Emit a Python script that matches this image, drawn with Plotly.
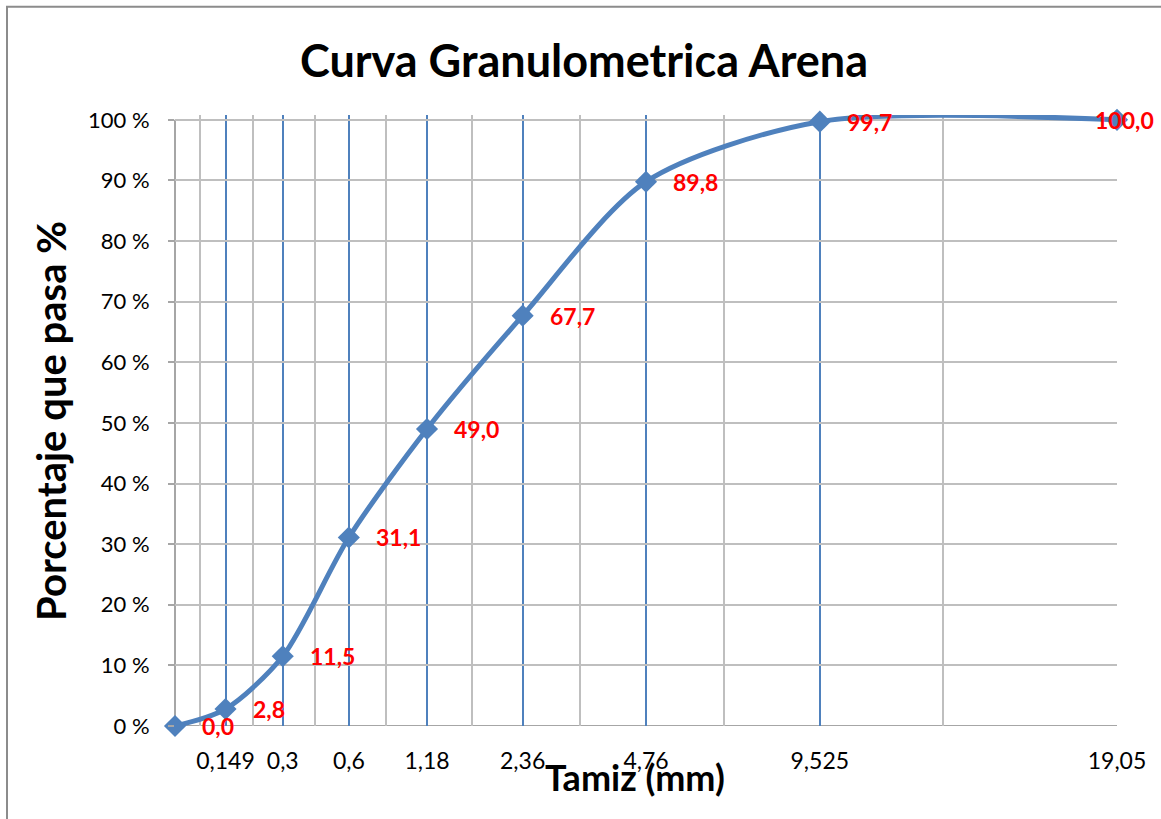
import math
import plotly.graph_objects as go

# Data
sieve_labels = ["", "0,149", "0,3", "0,6", "1,18", "2,36", "4,76", "9,525", "19,05"]
sieve_mm = [0.0, 0.149, 0.3, 0.6, 1.18, 2.36, 4.76, 9.525, 19.05]
passing_pct = [0.0, 2.8, 11.5, 31.1, 49.0, 67.7, 89.8, 99.7, 100.0]
y_ticks = [0, 10, 20, 30, 40, 50, 60, 70, 80, 90, 100]

n = len(sieve_mm)
# Original chart: reversed logarithmic category axis (position n - index)
xpos = [n - i for i in range(n)]

BLUE = "#4F81BD"
GREY = "#BFBFBF"
AXIS = "#A6A6A6"
FONT = "Lato"
Y_TOP = 100.8  # small headroom so the line at 100 % is not clipped

L, R, B = 175, 44, 93
W, H = 1161, 819
ph = H - B - 120  # 0..100 % spans this many pixels
T = 120 - (Y_TOP - 100) / 100 * ph
pw = W - L - R
ph_full = H - T - B

fig = go.Figure()
fig.add_trace(go.Scatter(
    x=xpos, y=passing_pct, mode="lines+markers",
    line=dict(color=BLUE, width=5, shape="spline", smoothing=0.8),
    marker=dict(symbol="diamond", size=17, color=BLUE),
    showlegend=False, hoverinfo="skip", cliponaxis=False,
))

def fmt(v):
    return f"{v:.1f}".replace(".", ",")

for i, (xp, p) in enumerate(zip(xpos, passing_pct)):
    last = i == n - 1
    fig.add_annotation(
        x=math.log10(xp), y=p, xref="x", yref="y", text=f"<b>{fmt(p)}</b>",
        showarrow=False, xanchor="right" if last else "left",
        xshift=39 if last else 25, yanchor="middle",
        font=dict(family=FONT, size=23, color="#FF0000"),
    )

fig.update_xaxes(
    type="log",
    range=[math.log10(n), 0],
    tickmode="array",
    tickvals=xpos[1:],
    ticktext=sieve_labels[1:],
    showgrid=True, gridcolor=BLUE, gridwidth=2,
    minor=dict(tickmode="array", tickvals=[n - i - 0.5 for i in range(n - 1)],
               showgrid=True, gridcolor=GREY, gridwidth=2, ticks=""),
    showline=False,
    ticks="outside", ticklen=14, tickcolor="rgba(0,0,0,0)",
    tickfont=dict(family=FONT, size=23, color="#000000"),
    zeroline=False, fixedrange=True,
)
fig.update_yaxes(
    range=[0, Y_TOP],
    tickmode="array", tickvals=y_ticks,
    ticktext=[f"{v} %" for v in y_ticks],
    showgrid=True, gridcolor=GREY, gridwidth=2,
    showline=False,
    ticks="outside", ticklen=6, tickcolor=AXIS, tickwidth=2,
    ticklabelstandoff=14,
    tickfont=dict(family=FONT, size=22, color="#000000"),
    zeroline=False, fixedrange=True,
)

# cover the gridline stubs above 100 %
fig.add_shape(type="rect", xref="paper", yref="y", x0=-0.01, x1=1.01,
              y0=100.25, y1=Y_TOP, fillcolor="white", line=dict(width=0),
              layer="between")
# axis lines (left and bottom), ending at 100 %
fig.add_shape(type="line", xref="paper", yref="y", x0=0, x1=0, y0=0, y1=100,
              line=dict(color=AXIS, width=2), layer="between")
fig.add_shape(type="line", xref="paper", yref="y", x0=0, x1=1, y0=0, y1=0,
              line=dict(color=AXIS, width=2), layer="between")

def px_x(p):
    return (p - L) / pw

def px_y(p):
    return (H - B - p) / ph_full

fig.add_annotation(x=px_x(584), y=px_y(60), xref="paper", yref="paper",
                   text="<b>Curva Granulometrica Arena</b>", showarrow=False,
                   xanchor="center", yanchor="middle",
                   font=dict(family=FONT, size=45, color="#000000"))
fig.add_annotation(x=px_x(51), y=px_y(421), xref="paper", yref="paper",
                   text="<b>Porcentaje que pasa %</b>", showarrow=False, textangle=-90,
                   xanchor="center", yanchor="middle",
                   font=dict(family=FONT, size=40, color="#000000"))
fig.add_annotation(x=px_x(635), y=px_y(777), xref="paper", yref="paper",
                   text="<b>Tamiz (mm)</b>", showarrow=False,
                   xanchor="center", yanchor="middle",
                   font=dict(family=FONT, size=36, color="#000000"))

# chart border (only top and left are visible in the frame)
fig.add_shape(type="rect", xref="paper", yref="paper",
              x0=px_x(7), x1=px_x(W + 20), y0=px_y(H + 20), y1=px_y(7),
              line=dict(color="#8C8C8C", width=2), layer="above")

fig.update_layout(
    width=W, height=H,
    margin=dict(l=L, r=R, t=T, b=B),
    paper_bgcolor="white", plot_bgcolor="white",
    showlegend=False,
)

fig.write_html("out.html")
